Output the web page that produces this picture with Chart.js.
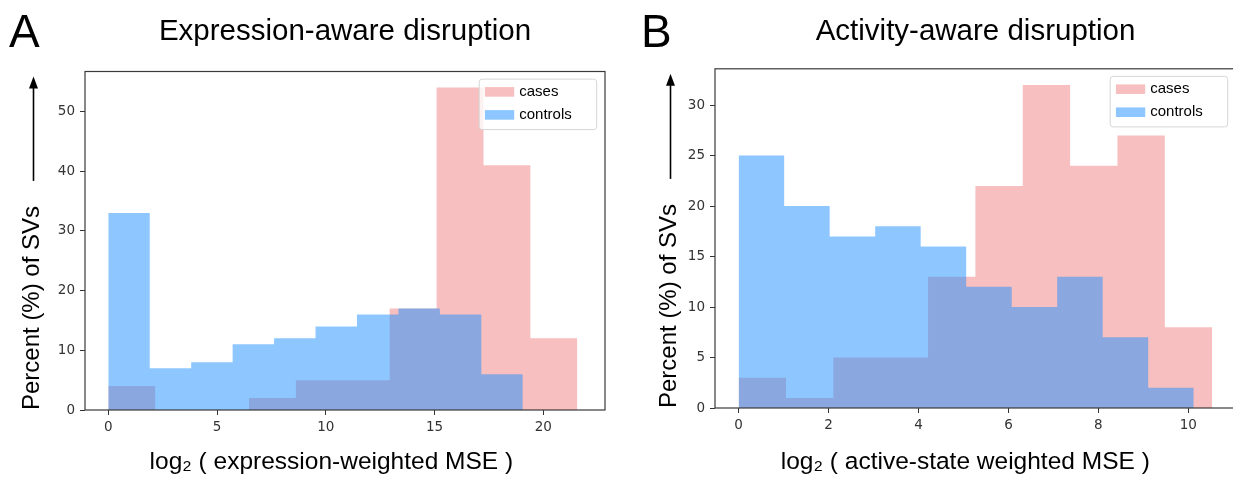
<!DOCTYPE html>
<html><head><meta charset="utf-8">
<script src="https://cdn.jsdelivr.net/npm/chart.js@4/dist/chart.umd.min.js"></script>
<style>
html,body{margin:0;padding:0;background:#fff;overflow:hidden;width:1233px;height:477px;}
.panel{position:absolute;top:0;height:477px;}
#wa{left:0;width:620px;}
#wb{left:620px;width:640px;}
.letter{position:absolute;font-family:'Liberation Sans',Arial,sans-serif;font-size:46px;color:#000;line-height:1;}
</style></head><body>
<div class="panel" id="wa"><canvas id="ca" width="620" height="477"></canvas></div>
<div class="panel" id="wb"><canvas id="cb" width="640" height="477"></canvas></div>
<div class="letter" style="left:9px;top:8px">A</div>
<div class="letter" style="left:641px;top:8px">B</div>
<script>
// ---- Panel A: expression-aware disruption ----
const exprCasesEdges    = [0, 2.157, 4.313, 6.47, 8.627, 10.783, 12.94, 15.097, 17.253, 19.41, 21.567];
const exprCasesValues   = [4, 0, 0, 2, 5, 5, 17, 54, 41, 12];
const exprControlsEdges = [0, 1.906, 3.812, 5.718, 7.624, 9.53, 11.436, 13.342, 15.248, 17.154, 19.06];
const exprControlsValues= [33, 7, 8, 11, 12, 14, 16, 17, 16, 6];
const exprXTicks = [0, 5, 10, 15, 20];
const exprYTicks = [0, 10, 20, 30, 40, 50];

// ---- Panel B: activity-aware disruption ----
const actCasesEdges    = [0, 1.053, 2.106, 3.159, 4.212, 5.265, 6.318, 7.371, 8.424, 9.477, 10.53];
const actCasesValues   = [3, 1, 5, 5, 13, 22, 32, 24, 27, 8];
const actControlsEdges = [0, 1.012, 2.024, 3.036, 4.048, 5.06, 6.072, 7.084, 8.096, 9.108, 10.12];
const actControlsValues= [25, 20, 17, 18, 16, 12, 10, 13, 7, 2];
const actXTicks = [0, 2, 4, 6, 8, 10];
const actYTicks = [0, 5, 10, 15, 20, 25, 30];

const seriesNames = ['cases', 'controls'];
const yTitle = 'Percent (%) of SVs';

const CASE_COLOR = 'rgba(240,128,128,0.5)';
const CTRL_COLOR = 'rgba(30,144,255,0.5)';

function histPoints(edges, values) {
  const pts = values.map((v, i) => ({x: edges[i], y: v}));
  pts.push({x: edges[edges.length - 1], y: values[values.length - 1]});
  return pts;
}

const framePlugin = {
  id: 'frame',
  afterDatasetsDraw(chart) {
    const {ctx, chartArea: a} = chart;
    ctx.save();
    ctx.strokeStyle = '#3a3a3a';
    ctx.lineWidth = 1.2;
    ctx.strokeRect(a.left, a.top, a.right - a.left, a.bottom - a.top);
    ctx.restore();
  }
};

const legendPlugin = {
  id: 'boxLegend',
  afterDatasetsDraw(chart) {
    const {ctx, chartArea: a} = chart;
    const w = 117.5, h = 50.5, r = 3;
    const x0 = a.right - 8.3 - w, y0 = a.top + 7.6;
    ctx.save();
    ctx.beginPath();
    ctx.moveTo(x0 + r, y0);
    ctx.arcTo(x0 + w, y0, x0 + w, y0 + h, r);
    ctx.arcTo(x0 + w, y0 + h, x0, y0 + h, r);
    ctx.arcTo(x0, y0 + h, x0, y0, r);
    ctx.arcTo(x0, y0, x0 + w, y0, r);
    ctx.closePath();
    ctx.fillStyle = 'rgba(255,255,255,0.8)';
    ctx.fill();
    ctx.strokeStyle = '#d6d6d6';
    ctx.lineWidth = 1;
    ctx.stroke();
    chart.data.datasets.forEach((ds, i) => {
      const cy = y0 + 12.8 + i * 23;
      ctx.fillStyle = ds.backgroundColor;
      ctx.fillRect(x0 + 5.7, cy - 4.8, 29.3, 9.6);
      ctx.fillStyle = '#000';
      ctx.font = '15px "Liberation Sans", Arial, sans-serif';
      ctx.textBaseline = 'middle';
      ctx.textAlign = 'left';
      ctx.fillText(ds.label, x0 + 40, cy);
    });
    ctx.restore();
  }
};

const arrowPlugin = {
  id: 'yArrow',
  afterDraw(chart) {
    const {ctx, chartArea: a} = chart;
    const ys = chart.scales.y;
    const t = ys.options.title;
    const fontSize = t.font.size;
    ctx.save();
    ctx.font = fontSize + 'px "Liberation Sans", Arial, sans-serif';
    const tw = ctx.measureText(t.text).width;
    const x = ys.left + t.padding.top + fontSize * 1.2 / 2 + 1.5;
    const yBottom = a.bottom - tw - 25;
    const yTip = a.top + 5;
    ctx.strokeStyle = '#000';
    ctx.fillStyle = '#000';
    ctx.lineWidth = 1.6;
    ctx.beginPath();
    ctx.moveTo(x, yBottom);
    ctx.lineTo(x, yTip + 10);
    ctx.stroke();
    ctx.beginPath();
    ctx.moveTo(x, yTip);
    ctx.lineTo(x - 4.5, yTip + 12);
    ctx.lineTo(x + 4.5, yTip + 12);
    ctx.closePath();
    ctx.fill();
    ctx.restore();
  }
};

function makeChart(canvasId, o) {
  return new Chart(document.getElementById(canvasId), {
    type: 'line',
    data: {
      datasets: [
        {label: seriesNames[0], data: histPoints(o.casesEdges, o.casesValues),
         backgroundColor: CASE_COLOR, borderColor: 'rgba(0,0,0,0)', borderWidth: 0,
         fill: 'origin', stepped: 'before', pointRadius: 0, order: 1},
        {label: seriesNames[1], data: histPoints(o.ctrlEdges, o.ctrlValues),
         backgroundColor: CTRL_COLOR, borderColor: 'rgba(0,0,0,0)', borderWidth: 0,
         fill: 'origin', stepped: 'before', pointRadius: 0, order: 0}
      ]
    },
    options: {
      responsive: false,
      animation: false,
      events: [],
      layout: {padding: {left: o.padLeft, right: o.padRight, top: 0, bottom: 0}},
      plugins: {
        legend: {display: false},
        tooltip: {enabled: false},
        title: {
          display: true, text: o.title, fullSize: false, color: '#000',
          font: {family: '"Liberation Sans", Arial, sans-serif', size: 29.5, weight: 'normal', lineHeight: 1.2},
          padding: {top: 14.3, bottom: o.titleGap}
        }
      },
      scales: {
        x: {
          type: 'linear', min: o.xMin, max: o.xMax,
          afterBuildTicks: s => { s.ticks = o.xTicks.map(v => ({value: v})); },
          afterFit: s => { s.height = o.xAxisH; },
          grid: {drawOnChartArea: false, drawTicks: true, tickLength: 5, tickColor: '#333', tickWidth: 1},
          border: {display: false},
          ticks: {color: '#333', padding: 4, autoSkip: false, maxRotation: 0,
                  font: {family: '"DejaVu Sans", sans-serif', size: 13.5}},
          title: {display: true, text: o.xTitle, color: '#000',
                  font: {family: '"Liberation Sans", Arial, sans-serif', size: 24.5, lineHeight: 1.2},
                  padding: {top: 4, bottom: 0.5}}
        },
        y: {
          type: 'linear', min: 0, max: o.yMax,
          afterBuildTicks: s => { s.ticks = o.yTicks.map(v => ({value: v})); },
          afterFit: s => { s.width = o.yAxisW; },
          grid: {drawOnChartArea: false, drawTicks: true, tickLength: 5, tickColor: '#333', tickWidth: 1},
          border: {display: false},
          ticks: {color: '#333', padding: 5, autoSkip: false,
                  font: {family: '"DejaVu Sans", sans-serif', size: 13.5}},
          title: {display: true, text: yTitle, color: '#000', align: 'start',
                  font: {family: '"Liberation Sans", Arial, sans-serif', size: 24, lineHeight: 1.2},
                  padding: {top: 4, bottom: 4}}
        }
      }
    },
    plugins: [framePlugin, legendPlugin, arrowPlugin]
  });
}

makeChart('ca', {
  title: 'Expression-aware disruption',
  xTitle: 'log\u2082 ( expression-weighted MSE )    ',
  casesEdges: exprCasesEdges, casesValues: exprCasesValues,
  ctrlEdges: exprControlsEdges, ctrlValues: exprControlsValues,
  xTicks: exprXTicks, yTicks: exprYTicks,
  xMin: -1.07, xMax: 22.84, yMax: 56.7,
  padLeft: 13.6, padRight: 15, yAxisW: 71.4, xAxisH: 67, titleGap: 21.8
});

makeChart('cb', {
  title: 'Activity-aware disruption',
  xTitle: 'log\u2082 ( active-state weighted MSE )   ',
  casesEdges: actCasesEdges, casesValues: actCasesValues,
  ctrlEdges: actControlsEdges, ctrlValues: actControlsValues,
  xTicks: actXTicks, yTicks: actYTicks,
  xMin: -0.526, xMax: 11.06, yMax: 33.6,
  padLeft: 30.6, padRight: 24, yAxisW: 64.4, xAxisH: 69, titleGap: 19.1
});
</script>
</body></html>
